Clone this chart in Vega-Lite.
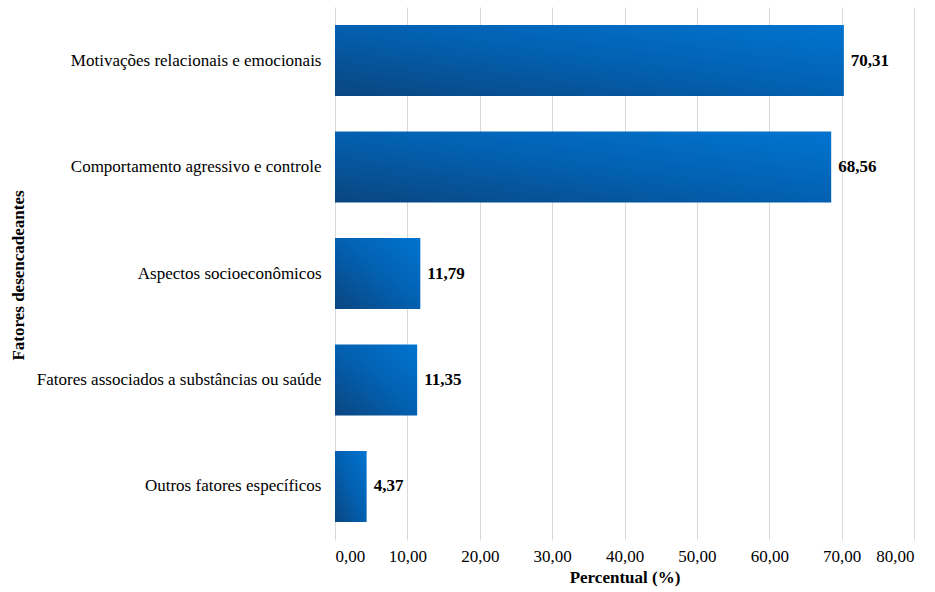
{
  "$schema": "https://vega.github.io/schema/vega-lite/v6.json",
  "autosize": {"type": "none"},
  "width": 579,
  "height": 533,
  "padding": {"left": 335, "top": 7, "right": 21, "bottom": 52},
  "background": "white",
  "config": {
    "locale": {"number": {"decimal": ",", "thousands": ".", "grouping": [3], "currency": ["R$", ""]}},
    "font": "Liberation Serif",
    "view": {"stroke": null}
  },
  "data": {
    "values": [
      {"fator": "Motivações relacionais e emocionais", "pct": 70.31},
      {"fator": "Comportamento agressivo e controle", "pct": 68.56},
      {"fator": "Aspectos socioeconômicos", "pct": 11.79},
      {"fator": "Fatores associados a substâncias ou saúde", "pct": 11.35},
      {"fator": "Outros fatores específicos", "pct": 4.37}
    ]
  },
  "encoding": {
    "y": {
      "field": "fator", "type": "nominal", "sort": null,
      "scale": {"paddingInner": 0.335, "paddingOuter": 0.17},
      "axis": {
        "title": "Fatores desencadeantes",
        "titleFont": "Liberation Serif", "titleFontSize": 17, "titleFontWeight": "bold", "titleColor": "#000",
        "titleAngle": -90, "titleX": -317, "titleY": 268, "titleAlign": "center", "titleBaseline": "middle",
        "labelFont": "Liberation Serif", "labelFontSize": 17, "labelColor": "#000", "labelPadding": 14,
        "ticks": false, "domain": false, "labelLimit": 400
      }
    },
    "x": {
      "field": "pct", "type": "quantitative",
      "scale": {"domain": [0, 80], "nice": false},
      "axis": {
        "title": "Percentual (%)", "values": [0, 10, 20, 30, 40, 50, 60, 70, 80], "format": ".2f",
        "titleFont": "Liberation Serif", "titleFontSize": 17, "titleFontWeight": "bold", "titleColor": "#000", "titlePadding": 5,
        "labelFont": "Liberation Serif", "labelFontSize": 17, "labelColor": "#000", "labelPadding": 8,
        "ticks": false, "domain": false, "grid": true, "gridColor": "#d9d9d9", "gridWidth": 1
      }
    }
  },
  "layer": [
    {
      "mark": {
        "type": "bar",
        "color": {
          "gradient": "linear", "x1": 0, "y1": 1, "x2": 1, "y2": 0,
          "stops": [
            {"offset": 0, "color": "#0a4680"},
            {"offset": 0.5, "color": "#0360b0"},
            {"offset": 1, "color": "#0074d0"}
          ]
        }
      }
    },
    {
      "mark": {"type": "text", "align": "left", "baseline": "middle", "dx": 7, "font": "Liberation Serif", "fontSize": 17, "fontWeight": "bold", "color": "#000"},
      "encoding": {"text": {"field": "pct", "type": "quantitative", "format": ".2f"}}
    }
  ]
}
